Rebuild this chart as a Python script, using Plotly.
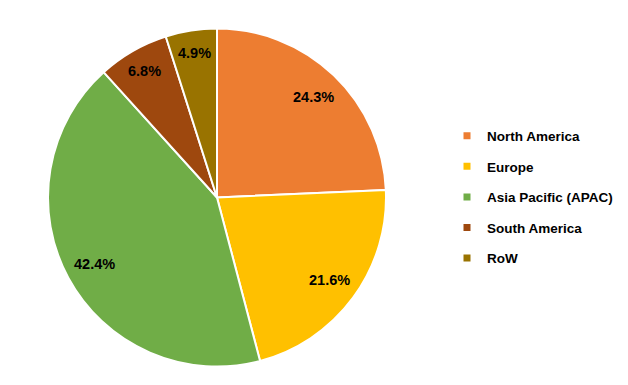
import math
import plotly.graph_objects as go

labels = ["North America", "Europe", "Asia Pacific (APAC)", "South America", "RoW"]
values = [24.3, 21.6, 42.4, 6.8, 4.9]
colors = ["#ED7D31", "#FFC000", "#70AD47", "#9E480E", "#997300"]

W, H = 628, 385
OFF = 8  # page body margin in the browser
cx, cy, r = 217 - OFF, 197.5 - OFF, 169
FONT = "Liberation Sans, Arial, sans-serif"

fig = go.Figure()
fig.add_trace(go.Pie(
    labels=labels,
    values=values,
    sort=False,
    direction="clockwise",
    rotation=0,
    marker=dict(colors=colors, line=dict(color="white", width=2)),
    textinfo="none",
    hoverinfo="label+percent",
    showlegend=False,
    domain=dict(x=[(cx - r) / W, (cx + r) / W], y=[1 - (cy + r) / H, 1 - (cy - r) / H]),
))

# legend entries (one group each, so spacing can be set)
for lab, col in zip(labels, colors):
    fig.add_trace(go.Scatter(
        x=[None], y=[None], mode="markers", name=lab,
        marker=dict(symbol="square", size=7, color=col, line=dict(width=0)),
        legendgroup=lab, showlegend=True, hoverinfo="skip",
    ))

# data labels at slice mid-angles
total = sum(values)
cum = 0.0
annotations = []
for v in values:
    mid = (cum + v / 2) / total * 2 * math.pi
    cum += v
    frac = 0.825 if v / total > 0.10 else 0.865
    px = cx + frac * r * math.sin(mid)
    py = cy - frac * r * math.cos(mid)
    annotations.append(dict(
        x=px / W, y=1 - py / H, xref="paper", yref="paper",
        text=f"<b>{v:.1f}%</b>", showarrow=False,
        xanchor="center", yanchor="middle",
        font=dict(family=FONT, size=14.5, color="black"),
    ))

fig.update_layout(
    width=W, height=H,
    margin=dict(l=0, r=0, t=0, b=0, autoexpand=False),
    paper_bgcolor="white",
    plot_bgcolor="white",
    xaxis=dict(visible=False),
    yaxis=dict(visible=False),
    annotations=annotations,
    showlegend=True,
    legend=dict(
        x=(454 - 15 - OFF + 8) / W, y=1 - (197 - OFF) / H, xanchor="left", yanchor="middle",
        font=dict(family=FONT, size=13.5, color="black", weight="bold"),
        itemwidth=30, tracegroupgap=10,
        bgcolor="rgba(0,0,0,0)",
    ),
)

fig.write_html("out.html")
